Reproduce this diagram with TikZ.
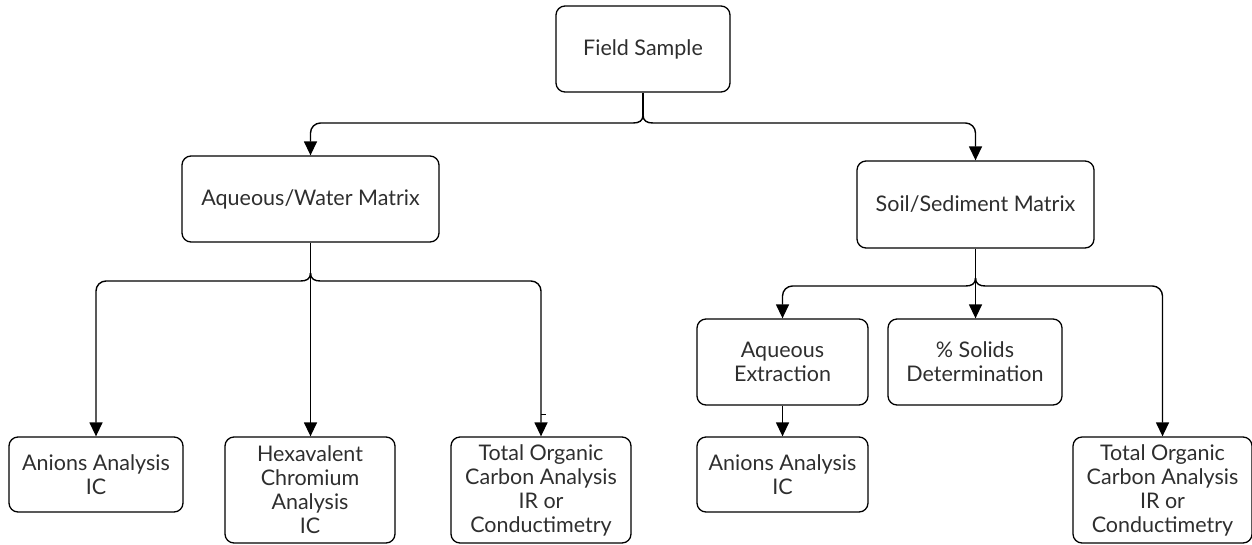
\documentclass[tikz,border=0pt]{standalone}
\usepackage{fontspec}
\setmainfont{Lato}
\usetikzlibrary{arrows.meta,calc}
\begin{document}
\begin{tikzpicture}[x=1pt,y=-1pt,
  box/.style={draw, line width=1.3pt, rounded corners=9pt, align=center, inner sep=0pt,
    font=\fontsize{21.5}{24}\selectfont, text=black!82},
  ln/.style={line width=1.4pt},
  arr/.style={ln, -{Triangle[length=14pt,width=13pt]}}]
\useasboundingbox (0,0) rectangle (1252,544);
% nodes
\node[box, minimum width=174pt, minimum height=86pt] (fs) at (643,49) {Field Sample};
\node[box, minimum width=257pt, minimum height=86pt] (aw) at (310.5,199) {Aqueous/Water Matrix};
\node[box, minimum width=237pt, minimum height=87pt] (ss) at (975.5,204.5) {Soil/Sediment Matrix};
\node[box, minimum width=174pt, minimum height=75pt] (an1) at (96,474.5) {Anions Analysis\\IC};
\node[box, minimum width=170pt, minimum height=106pt] (hex) at (310,490) {Hexavalent\\Chromium\\Analysis\\IC};
\node[box, minimum width=180pt, minimum height=106pt] (toc1) at (541,490) {Total Organic\\Carbon Analysis\\IR or\\Conductimetry};
\node[box, minimum width=171pt, minimum height=86pt] (ae) at (782.5,362) {Aqueous\\Extraction};
\node[box, minimum width=174pt, minimum height=86pt] (sd) at (975,362) {\% Solids\\Determination};
\node[box, minimum width=171pt, minimum height=75pt] (an2) at (782.5,474.5) {Anions Analysis\\IC};
\node[box, minimum width=179pt, minimum height=106pt] (toc2) at (1162.5,490) {Total Organic\\Carbon Analysis\\IR or\\Conductimetry};
% brace 1
\coordinate (k1) at (643,115);
\draw[ln] (fs.south) -- (k1);
\draw[arr] (k1) .. controls (643,121) and (639,123) .. (633,123) [rounded corners=10pt] -- (310.5,123) -- (aw.north);
\draw[arr] (k1) .. controls (643,121) and (647,123) .. (653,123) [rounded corners=10pt] -- (975.5,123) -- (ss.north);
% brace 2
\coordinate (k2) at (310.5,273);
\draw[arr] (aw.south) -- (aw.south |- hex.north);
\draw[arr] (k2) .. controls (310.5,279) and (306.5,281) .. (300.5,281) [rounded corners=10pt] -- (96,281) -- (an1.north);
\draw[arr] (k2) .. controls (310.5,279) and (314.5,281) .. (320.5,281) [rounded corners=10pt] -- (541,281) -- (toc1.north);
\coordinate (t1) at (541,414);
\draw[line width=0.8pt] (t1) -- ++(5,0);
% brace 3
\coordinate (k3) at (975.5,278);
\draw[arr] (ss.south) -- (ss.south |- sd.north);
\draw[arr] (k3) .. controls (975.5,284) and (971.5,286) .. (965.5,286) [rounded corners=10pt] -- (782.5,286) -- (ae.north);
\draw[arr] (k3) .. controls (975.5,284) and (979.5,286) .. (985.5,286) [rounded corners=10pt] -- (1162.5,286) -- (toc2.north);
% extraction to anions
\draw[arr] (ae.south) -- (an2.north);
\end{tikzpicture}
\end{document}
